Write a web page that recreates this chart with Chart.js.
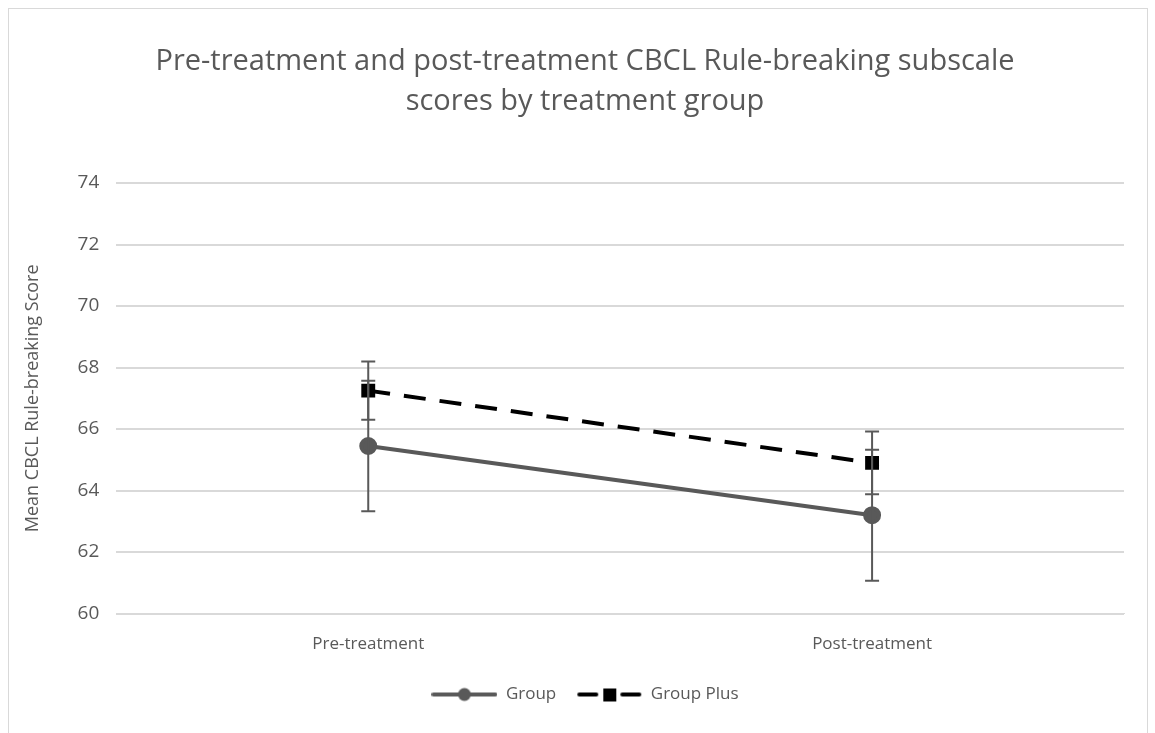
<!DOCTYPE html>
<html>
<head>
<meta charset="utf-8">
<script src="https://cdn.jsdelivr.net/npm/chart.js@4"></script>
<style>
  html, body { margin: 0; padding: 0; background: #fff; }
  #wrap { position: relative; width: 1155px; height: 733px; }
  #frame { position: absolute; left: 8px; top: 8px; width: 1140px; height: 740px; border: 1px solid #d9d9d9; box-sizing: border-box; }
  canvas { position: absolute; left: 0; top: 0; }
</style>
</head>
<body>
<div id="wrap">
  <div id="frame"></div>
  <canvas id="chart" width="1155" height="733"></canvas>
</div>
<script>
(function () {
  const labels = ["Pre-treatment", "Post-treatment"];
  const groupMeans = [65.45, 63.2];
  const groupErr = [2.12, 2.13];
  const plusMeans = [67.25, 64.9];
  const plusErr = [0.95, 1.02];
  const yTicks = [60, 62, 64, 66, 68, 70, 72, 74];

  const textColor = "#595959";
  const font = "'Open Sans', sans-serif";

  // little canvas used as legend symbol: line with marker in the middle
  function legendIcon(color, dashed, marker) {
    const c = document.createElement("canvas");
    c.width = 66; c.height = 16;
    const g = c.getContext("2d");
    g.strokeStyle = color;
    g.lineWidth = 4;
    g.lineCap = "round";
    if (dashed) {
      g.beginPath(); g.moveTo(3, 8); g.lineTo(20, 8); g.stroke();
      g.beginPath(); g.moveTo(46, 8); g.lineTo(63, 8); g.stroke();
    } else {
      g.beginPath(); g.moveTo(2, 8); g.lineTo(64, 8); g.stroke();
    }
    g.fillStyle = color;
    if (marker === "circle") {
      g.beginPath(); g.arc(33, 8, 6.5, 0, Math.PI * 2); g.fill();
    } else {
      g.fillRect(27, 2, 13, 13);
    }
    return c;
  }

  const errorBars = {
    id: "errorBars",
    afterDatasetsDraw(chart) {
      const { ctx, scales } = chart;
      ctx.save();
      ctx.strokeStyle = textColor;
      ctx.lineWidth = 2;
      chart.data.datasets.forEach((ds, i) => {
        const meta = chart.getDatasetMeta(i);
        ds.data.forEach((v, j) => {
          const x = meta.data[j].x;
          const top = scales.y.getPixelForValue(v + ds.errors[j]);
          const bot = scales.y.getPixelForValue(v - ds.errors[j]);
          ctx.beginPath();
          ctx.moveTo(x, top); ctx.lineTo(x, bot);
          ctx.moveTo(x - 7, top); ctx.lineTo(x + 7, top);
          ctx.moveTo(x - 7, bot); ctx.lineTo(x + 7, bot);
          ctx.stroke();
        });
      });
      ctx.restore();
    }
  };

  new Chart(document.getElementById("chart"), {
    type: "line",
    data: {
      labels,
      datasets: [
        {
          label: "Group",
          data: groupMeans,
          errors: groupErr,
          borderColor: textColor,
          backgroundColor: textColor,
          borderWidth: 4,
          pointStyle: "circle",
          pointRadius: 7,
          order: 2,
          icon: legendIcon(textColor, false, "circle")
        },
        {
          label: "Group Plus",
          data: plusMeans,
          errors: plusErr,
          borderColor: "#000",
          backgroundColor: "#000",
          borderWidth: 4,
          borderDash: [22, 14],
          pointStyle: "rect",
          pointRadius: 7,
          order: 1,
          icon: legendIcon("#000", true, "rect")
        }
      ]
    },
    options: {
      responsive: false,
      animation: false,
      layout: { padding: { left: 18, right: 3, top: 26, bottom: 20 } },
      plugins: {
        title: {
          display: true,
          text: ["Pre-treatment and post-treatment CBCL Rule-breaking subscale", "scores by treatment group"],
          color: textColor,
          font: { family: font, size: 29, weight: "normal", lineHeight: 1.38 },
          padding: { top: 16, bottom: 61 }
        },
        legend: {
          position: "bottom",
          labels: {
            color: textColor,
            font: { family: font, size: 17 },
            usePointStyle: true,
            pointStyleWidth: 66,
            padding: 20,
            generateLabels(chart) {
              return chart.data.datasets.map((ds, i) => ({
                text: ds.label,
                pointStyle: ds.icon,
                fontColor: textColor,
                datasetIndex: i,
                lineWidth: 0
              }));
            }
          }
        },
        tooltip: { enabled: false }
      },
      scales: {
        x: {
          offset: true,
          grid: { display: false },
          border: { color: "#d9d9d9" },
          ticks: { color: textColor, font: { family: font, size: 17 }, padding: 12 }
        },
        y: {
          min: 60,
          max: 74,
          afterBuildTicks(axis) { axis.ticks = yTicks.map(v => ({ value: v })); },
          grid: { color: "#d9d9d9", lineWidth: 2, drawTicks: false },
          border: { display: false },
          ticks: { color: textColor, font: { family: font, size: 19 }, padding: 17 },
          title: {
            display: true,
            text: "Mean CBCL Rule-breaking Score",
            color: textColor,
            font: { family: font, size: 18 },
            padding: { bottom: 17 }
          }
        },
        // empty right-hand spacer so the title and legend sit where they do in the original
        spacer: {
          position: "right",
          grid: { display: false },
          border: { display: false },
          ticks: { display: false },
          afterFit(axis) { axis.width = 28; }
        }
      }
    },
    plugins: [errorBars]
  });
})();
</script>
</body>
</html>
